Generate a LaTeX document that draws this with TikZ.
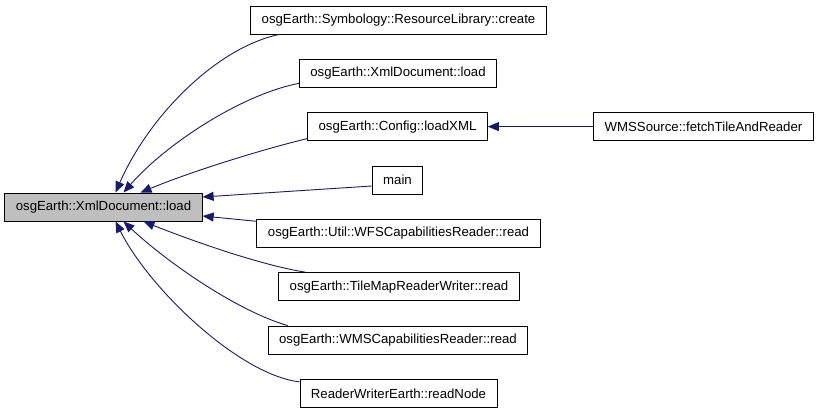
\documentclass[tikz,border=0pt]{standalone}
\usepackage{fontspec}
\setmainfont{Liberation Sans}
\usetikzlibrary{arrows.meta}
\definecolor{edgeblue}{HTML}{191970}
\definecolor{boxgray}{HTML}{BFBFBF}
\begin{document}
\begin{tikzpicture}[x=1pt,y=-1pt,
  fn/.style={draw=black,line width=0.9pt,minimum height=28pt,inner xsep=11pt,inner ysep=0pt,
    font=\fontsize{13.2}{15}\selectfont,anchor=center},
  edge/.style={draw=edgeblue,line width=0.9pt,-{Triangle[length=11pt,width=9pt]}}]
\useasboundingbox (0,0) rectangle (819,413);
\node[fn,fill=boxgray] (L) at (103.5,207) {osgEarth::XmlDocument::load};
\node[fn] (create) at (398.5,20) {osgEarth::Symbology::ResourceLibrary::create};
\node[fn] (x2) at (398,73.3) {osgEarth::XmlDocument::load};
\node[fn] (cfg) at (397.5,126.6) {osgEarth::Config::loadXML};
\node[fn] (wmss) at (703.5,126.6) {WMSSource::fetchTileAndReader};
\node[fn] (main) at (397.5,180) {main};
\node[fn] (wfs) at (398.5,233.3) {osgEarth::Util::WFSCapabilitiesReader::read};
\node[fn] (tile) at (399,286.6) {osgEarth::TileMapReaderWriter::read};
\node[fn] (wmsc) at (398,340) {osgEarth::WMSCapabilitiesReader::read};
\node[fn] (rn) at (398.5,393.3) {ReaderWriterEarth::readNode};

\draw[edge] (wmss.west) -- (cfg.east);
\draw[edge] ([xshift=29pt]create.south west) .. controls (215,48) and (148,118) .. ([xshift=12pt]L.north);
\draw[edge] ([yshift=-10pt]x2.west) .. controls (240,95) and (165,145) .. ([xshift=20pt]L.north);
\draw[edge] ([yshift=-12pt]cfg.west) .. controls (260,150) and (190,172) .. ([xshift=37pt]L.north);
\draw[edge] ([yshift=-6pt]main.west) -- ([yshift=10pt]L.east);
\draw[edge] ([yshift=12pt]wfs.west) -- ([yshift=-9pt]L.east);
\draw[edge] ([xshift=27pt]tile.north west) .. controls (260,265) and (190,240) .. ([xshift=40pt]L.south);
\draw[edge] ([xshift=20pt]wmsc.north west) .. controls (240,312) and (170,265) .. ([xshift=20pt]L.south);
\draw[edge] ([yshift=-3pt]rn.north west) .. controls (240,375) and (150,290) .. ([xshift=12pt]L.south);
\end{tikzpicture}
\end{document}
